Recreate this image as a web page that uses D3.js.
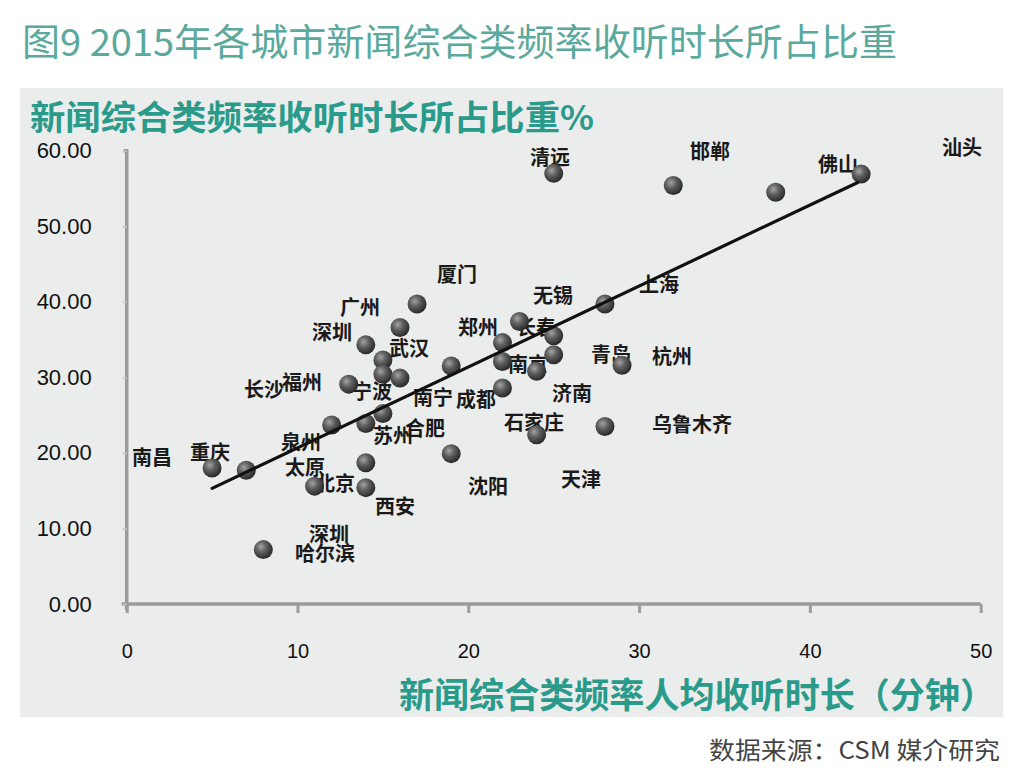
<!DOCTYPE html>
<html><head><meta charset="utf-8">
<script src="https://cdn.jsdelivr.net/npm/d3@7"></script>
<style>html,body{margin:0;padding:0;background:#fff;}</style>
</head><body>
<svg id="chart" width="1024" height="784"></svg>
<script>
// ---- data ----
const pointX = [25,32,38,43, 17,16,14,15,15,16,13,15,12,14, 23,28,25,22,25,22,19,24,29,22,24,28,19, 5,7,14,11,14,8];
const pointY = [57.0,55.4,54.5,56.9, 39.7,36.6,34.3,32.3,30.4,29.9,29.1,25.2,23.7,23.9, 37.4,39.7,35.5,34.6,33.0,32.1,31.5,30.8,31.6,28.6,22.4,23.5,19.9, 18.0,17.7,18.7,15.6,15.4,7.2];
const cityNames = ["清远","邯郸","佛山","汕头","厦门","无锡","上海","广州","深圳","郑州","长春","武汉","南京","青岛","杭州","长沙","福州","宁波","南宁","成都","济南","石家庄","乌鲁木齐","泉州","苏州","合肥","南昌","重庆","太原","北京","西安","沈阳","天津","深圳","哈尔滨"];
const labelX = [24.79,34.15,41.65,48.91,19.34,24.96,31.17,13.66,12.02,20.57,23.96,16.53,23.5,28.36,31.93,8.04,10.26,14.36,17.93,20.45,26.07,23.85,33.1,10.2,15.59,17.46,1.48,4.88,10.44,12.19,15.71,21.16,26.6,11.84,11.61];
const labelY = [59.28,60.08,58.36,60.61,43.77,40.98,42.44,39.32,36.07,36.74,36.74,33.95,31.83,33.16,32.89,28.51,29.44,28.25,27.45,27.19,27.98,24.14,23.87,21.49,22.41,23.34,19.5,20.16,18.17,16.05,13.0,15.65,16.58,9.28,6.76];
const trendX = [5, 42.8];
const trendY = [15.3, 55.8];
const xTicks = [0,10,20,30,40,50];
const yTicks = [0,10,20,30,40,50,60];
const titleText = "图9 2015年各城市新闻综合类频率收听时长所占比重";
const yTitle = "新闻综合类频率收听时长所占比重%";
const xTitle = "新闻综合类频率人均收听时长（分钟）";
const sourceText = "数据来源：CSM 媒介研究";

// ---- drawing ----
const svg = d3.select("#chart");
const teal = "#2a9b8b";
const cjk = "'Noto Sans CJK SC','Noto Sans',sans-serif";
const num = "'Liberation Sans',Arial,sans-serif";

const x = d3.scaleLinear().domain([0,50]).range([126.7,980.7]);
const y = d3.scaleLinear().domain([0,60]).range([604,150.7]);

const defs = svg.append("defs");
const g = defs.append("radialGradient").attr("id","ball").attr("cx","38%").attr("cy","35%").attr("r","65%");
g.append("stop").attr("offset","0%").attr("stop-color","#a3a3a3");
g.append("stop").attr("offset","45%").attr("stop-color","#5e5e5e");
g.append("stop").attr("offset","100%").attr("stop-color","#2a2a2a");

svg.append("text").attr("x",22).attr("y",40).attr("dominant-baseline","central")
  .attr("font-family",cjk).attr("font-size",37).attr("fill","#5aa99c")
  .attr("textLength",875).attr("lengthAdjust","spacingAndGlyphs").text(titleText);

svg.append("rect").attr("x",20).attr("y",88).attr("width",983).attr("height",629).attr("fill","#eaedec");

svg.append("text").attr("x",30).attr("y",115).attr("dominant-baseline","central")
  .attr("font-family",cjk).attr("font-weight","bold").attr("font-size",34).attr("fill",teal)
  .attr("textLength",564).attr("lengthAdjust","spacingAndGlyphs").text(yTitle);

svg.append("text").attr("x",399).attr("y",692).attr("dominant-baseline","central")
  .attr("font-family",cjk).attr("font-weight","bold").attr("font-size",35).attr("fill",teal)
  .attr("textLength",596).attr("lengthAdjust","spacingAndGlyphs").text(xTitle);

svg.append("text").attr("x",709).attr("y",748).attr("dominant-baseline","central")
  .attr("font-family",cjk).attr("font-size",24).attr("fill","#444")
  .attr("textLength",291).attr("lengthAdjust","spacingAndGlyphs").text(sourceText);

// axes
const xAxis = svg.append("g").attr("transform",`translate(0,${y(0)})`)
  .call(d3.axisBottom(x).tickValues(xTicks).tickSize(9).tickPadding(31).tickFormat(d=>d));
xAxis.select(".domain").attr("d",`M${x(0)-5},0H${x(50)}`).attr("stroke","#9b9c9c").attr("stroke-width",3.5);
xAxis.selectAll(".tick line").attr("stroke","#9b9c9c").attr("stroke-width",3);
xAxis.selectAll(".tick text").attr("font-family",num).attr("font-size",20).attr("fill","#111");

const yAxis = svg.append("g").attr("transform",`translate(${x(0)},0)`)
  .call(d3.axisLeft(y).tickValues(yTicks).tickSize(4).tickPadding(31).tickFormat(d3.format(".2f")));
yAxis.select(".domain").attr("d",`M-3,${y(60)}H0V${y(0)+6}`).attr("stroke","#9b9c9c").attr("stroke-width",3.5).attr("fill","none");
yAxis.selectAll(".tick line").attr("stroke","#c4c6c6").attr("stroke-width",1.5);
yAxis.selectAll(".tick text").attr("font-family",num).attr("font-size",22).attr("fill","#111");

// labels
svg.append("g").selectAll("text").data(cityNames).join("text")
  .attr("x",(d,i)=>x(labelX[i])).attr("y",(d,i)=>y(labelY[i]))
  .attr("text-anchor","middle").attr("dominant-baseline","central")
  .attr("font-family",cjk).attr("font-weight","bold").attr("font-size",20).attr("fill","#1a1a1a")
  .text(d=>d);

// points
svg.append("g").selectAll("circle").data(pointX).join("circle")
  .attr("cx",(d)=>x(d)).attr("cy",(d,i)=>y(pointY[i])).attr("r",9.5)
  .attr("fill","url(#ball)");

// trend line
svg.append("line").attr("x1",x(trendX[0])).attr("y1",y(trendY[0]))
  .attr("x2",x(trendX[1])).attr("y2",y(trendY[1]))
  .attr("stroke","#111").attr("stroke-width",3.2).attr("stroke-linecap","round");
</script>
</body></html>
